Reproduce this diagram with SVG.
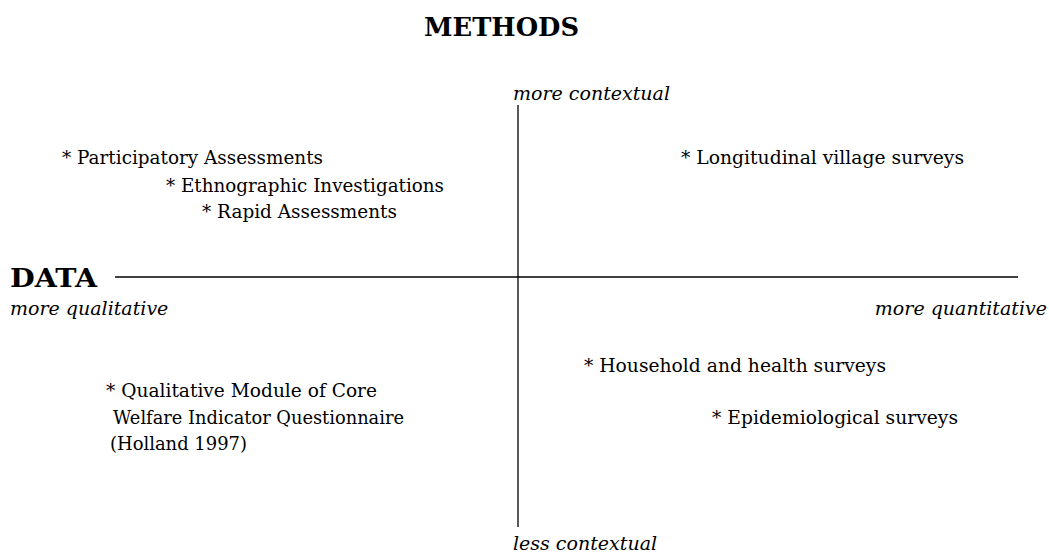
<svg xmlns="http://www.w3.org/2000/svg" width="1049" height="554" viewBox="0 0 1049 554">
<style>
text{font-family:"DejaVu Serif","Liberation Serif",serif;font-size:18.3px;fill:#000}
.h{font-weight:bold;font-size:26px}
.i{font-style:italic;font-size:19px}
line{stroke:#000;stroke-width:1.3}
</style>
<rect width="1049" height="554" fill="#fff"/>
<g id="axes">
<line x1="518" y1="105" x2="518" y2="527"/>
<line x1="115" y1="277" x2="1018" y2="277"/>
</g>
<g id="title"><text class="h" x="424" y="36" textLength="155" lengthAdjust="spacingAndGlyphs">METHODS</text></g>
<g id="data"><text class="h" x="10" y="287" textLength="87" lengthAdjust="spacingAndGlyphs">DATA</text></g>
<g id="top"><text class="i" x="513" y="100">more contextual</text></g>
<g id="bottom"><text class="i" x="513" y="550">less contextual</text></g>
<g id="left"><text class="i" x="10" y="315">more qualitative</text></g>
<g id="right"><text class="i" x="1047" y="315" text-anchor="end">more quantitative</text></g>
<g id="q1">
<text x="62" y="164" textLength="261" lengthAdjust="spacingAndGlyphs">* Participatory Assessments</text>
<text x="166" y="192" textLength="278" lengthAdjust="spacingAndGlyphs">* Ethnographic Investigations</text>
<text x="202" y="218" textLength="195" lengthAdjust="spacingAndGlyphs">* Rapid Assessments</text>
</g>
<g id="q2"><text x="681" y="164" textLength="283" lengthAdjust="spacingAndGlyphs">* Longitudinal village surveys</text></g>
<g id="q3">
<text x="106" y="397" textLength="271" lengthAdjust="spacingAndGlyphs">* Qualitative Module of Core</text>
<text x="113" y="424" textLength="291" lengthAdjust="spacingAndGlyphs">Welfare Indicator Questionnaire</text>
<text x="110" y="450" textLength="137" lengthAdjust="spacingAndGlyphs">(Holland 1997)</text>
</g>
<g id="q4">
<text x="584" y="372" textLength="302" lengthAdjust="spacingAndGlyphs">* Household and health surveys</text>
<text x="712" y="424" textLength="246" lengthAdjust="spacingAndGlyphs">* Epidemiological surveys</text>
</g>
</svg>
